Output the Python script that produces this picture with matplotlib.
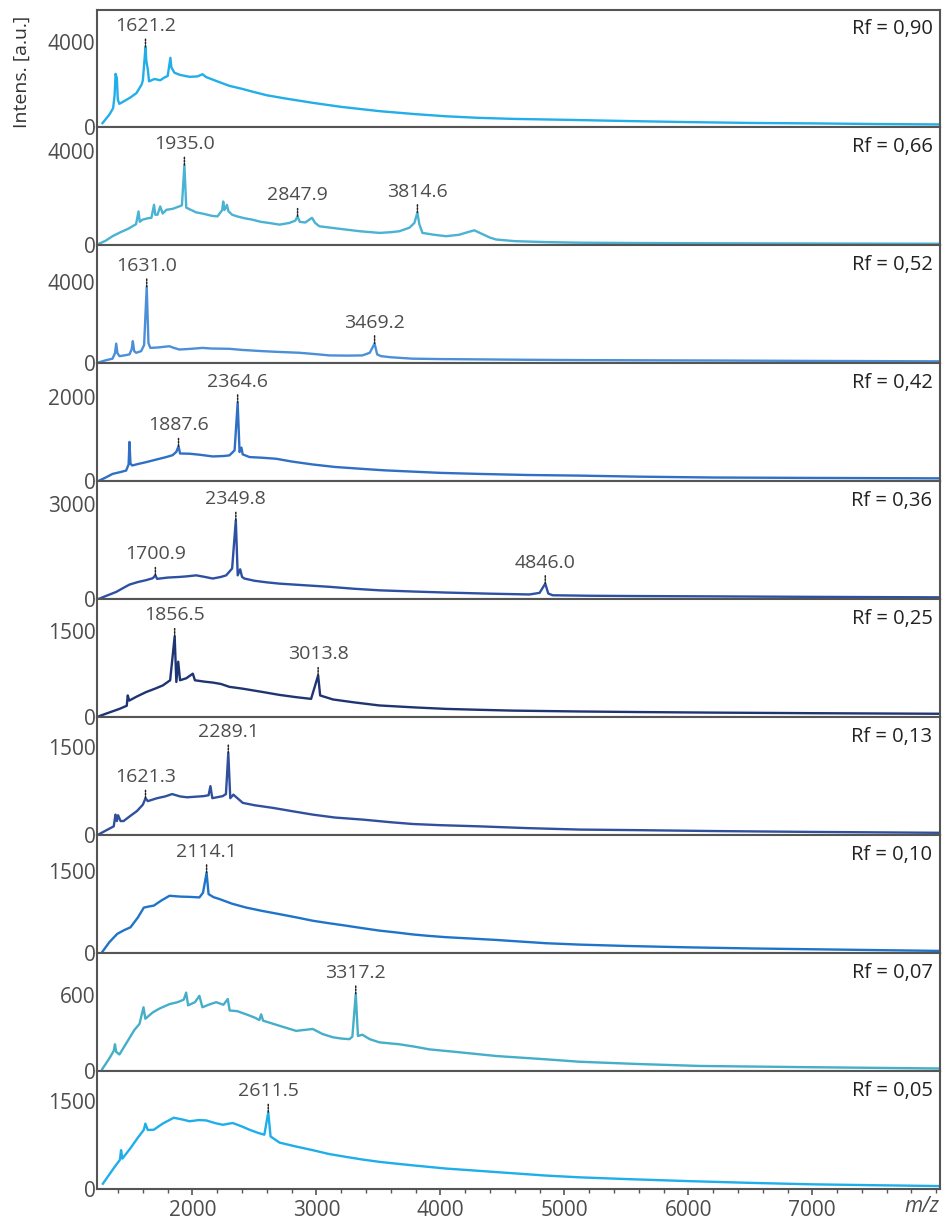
import matplotlib.pyplot as plt
import numpy as np
from matplotlib.ticker import FixedLocator, MultipleLocator

plt.rcParams['font.family'] = ['Open Sans', 'DejaVu Sans']

# one entry per panel, top to bottom
rf_labels = ["Rf = 0,90", "Rf = 0,66", "Rf = 0,52", "Rf = 0,42", "Rf = 0,36",
             "Rf = 0,25", "Rf = 0,13", "Rf = 0,10", "Rf = 0,07", "Rf = 0,05"]
line_colors = ["#22aee8", "#4ab2d2", "#4a8fd8", "#2f6fc4", "#2d50a2",
               "#1f3472", "#30509e", "#1f74c9", "#45aec8", "#1eaeea"]
y_ticks_top = [4000, 4000, 4000, 2000, 3000, 1500, 1500, 1500, 600, 1500]
y_limits = [5500, 5000, 5800, 2800, 3700, 2060, 2010, 2150, 925, 2020]

peak_labels = [
    ["1621.2"],
    ["1935.0", "2847.9", "3814.6"],
    ["1631.0", "3469.2"],
    ["1887.6", "2364.6"],
    ["1700.9", "2349.8", "4846.0"],
    ["1856.5", "3013.8"],
    ["1621.3", "2289.1"],
    ["2114.1"],
    ["3317.2"],
    ["2611.5"],
]

mz_1 = [1274, 1330, 1360, 1372, 1380, 1390, 1398, 1410, 1450, 1500, 1548, 1590, 1600, 1621.2,
        1628, 1640, 1650, 1694, 1740, 1774, 1800, 1822, 1830, 1855, 1900, 1976, 2040, 2081,
        2110, 2200, 2298, 2400, 2484, 2600, 2750, 2968, 3200, 3508, 3800, 4048, 4300, 4581,
        5065, 5500, 6000, 6500, 7000, 7500, 8030]
int_1 = [200, 600, 900, 1500, 2500, 2300, 1300, 1100, 1230, 1400, 1600, 2000, 2200, 3750,
         3100, 2700, 2150, 2260, 2200, 2330, 2400, 3250, 2800, 2550, 2450, 2360, 2380, 2480,
         2350, 2150, 1940, 1800, 1670, 1500, 1350, 1150, 960, 760, 620, 520, 450, 400,
         350, 300, 250, 210, 190, 160, 140]

mz_2 = [1250, 1300, 1355, 1420, 1480, 1516, 1545, 1565, 1575, 1597, 1640, 1669, 1690, 1700,
        1718, 1740, 1760, 1790, 1840, 1887, 1915, 1935.0, 1950, 1970, 2030, 2080, 2121, 2160,
        2202, 2240, 2248, 2258, 2270, 2278, 2290, 2320, 2360, 2420, 2484, 2550, 2620, 2702,
        2780, 2830, 2847.9, 2865, 2910, 2964, 2990, 3024, 3100, 3239, 3350, 3508, 3600, 3669,
        3750, 3790, 3814.6, 3830, 3855, 3950, 4046, 4150, 4220, 4274, 4330, 4400, 4449, 4600,
        4852, 5121, 5600, 6200, 7000, 8030]
int_2 = [80, 200, 390, 560, 700, 810, 900, 1440, 1000, 1090, 1150, 1170, 1720, 1300,
         1300, 1650, 1350, 1510, 1550, 1640, 1700, 3400, 1600, 1550, 1400, 1350, 1300, 1250,
         1230, 1500, 1860, 1500, 1600, 1720, 1450, 1300, 1230, 1150, 1090, 1000, 950, 880,
         950, 1050, 1230, 1000, 970, 1170, 950, 810, 760, 670, 600, 530, 560, 600,
         750, 950, 1390, 900, 530, 450, 390, 450, 560, 640, 500, 330, 250, 180,
         140, 115, 100, 90, 80, 70]

mz_3 = [1250, 1300, 1355, 1375, 1385, 1395, 1411, 1460, 1492, 1510, 1519, 1530, 1546, 1586,
        1610, 1631.0, 1645, 1660, 1720, 1780, 1815, 1850, 1895, 1950, 2000, 2081, 2150, 2298,
        2400, 2565, 2700, 2863, 3000, 3105, 3250, 3371, 3430, 3469.2, 3490, 3520, 3600, 3774,
        4000, 4315, 4700, 5121, 5600, 6200, 7000, 8030]
int_3 = [60, 150, 230, 500, 970, 500, 355, 400, 440, 700, 1090, 600, 520, 600,
         900, 3760, 1000, 760, 780, 820, 840, 760, 680, 700, 720, 760, 730, 715,
         660, 600, 560, 520, 450, 390, 380, 390, 520, 970, 440, 355, 300, 230,
         210, 195, 175, 160, 150, 140, 120, 100]

mz_4 = [1250, 1300, 1355, 1420, 1465, 1485, 1492, 1500, 1514, 1560, 1627, 1700, 1788, 1840,
        1870, 1887.6, 1900, 1976, 2060, 2164, 2250, 2298, 2340, 2364.6, 2380, 2395, 2405, 2460,
        2560, 2675, 2800, 2968, 3150, 3371, 3550, 3774, 4000, 4315, 4700, 5121, 5600, 6200,
        7000, 8030]
int_4 = [20, 90, 175, 220, 255, 400, 935, 420, 375, 410, 455, 510, 575, 620,
         700, 830, 660, 655, 630, 590, 600, 615, 735, 1865, 695, 800, 640, 575,
         560, 535, 470, 400, 340, 295, 260, 230, 200, 175, 150, 135, 110, 90,
         80, 70]

mz_5 = [1250, 1300, 1385, 1440, 1492, 1560, 1627, 1680, 1700.9, 1715, 1800, 1895, 1960, 2030,
        2100, 2164, 2230, 2272, 2320, 2349.8, 2365, 2385, 2400, 2419, 2500, 2600, 2702, 2900,
        3105, 3300, 3508, 3800, 4046, 4400, 4718, 4800, 4846.0, 4870, 4906, 5200, 5600, 6200,
        7000, 8030]
int_5 = [20, 100, 230, 350, 460, 540, 600, 660, 750, 640, 680, 700, 720, 750,
         700, 650, 700, 750, 965, 2480, 750, 940, 700, 650, 580, 530, 490, 440,
         390, 330, 280, 240, 210, 175, 150, 200, 490, 180, 125, 110, 100, 90,
         75, 60]

mz_6 = [1250, 1300, 1411, 1470, 1478, 1490, 1550, 1627, 1700, 1761, 1820, 1856.5, 1870, 1885,
        1900, 1950, 2003, 2020, 2100, 2164, 2230, 2298, 2400, 2567, 2700, 2836, 2957, 3013.8,
        3030, 3133, 3300, 3508, 3800, 4046, 4300, 4583, 5121, 5600, 6200, 7000, 8030]
int_6 = [20, 60, 145, 200, 380, 290, 360, 440, 500, 555, 645, 1410, 615, 970,
         645, 680, 760, 645, 620, 605, 580, 530, 500, 440, 390, 350, 320, 730,
         380, 310, 260, 205, 170, 145, 130, 115, 100, 90, 80, 70, 60]

mz_7 = [1250, 1320, 1365, 1379, 1390, 1400, 1420, 1444, 1500, 1552, 1600, 1621.3, 1640, 1715,
        1780, 1836, 1900, 1957, 2091, 2130, 2145, 2160, 2244, 2270, 2289.1, 2305, 2330, 2406,
        2500, 2648, 2800, 2970, 3150, 3374, 3600, 3777, 4000, 4315, 4700, 5121, 5600, 6200,
        7000, 8030]
int_7 = [20, 100, 150, 350, 240, 340, 240, 240, 330, 410, 520, 630, 580, 630,
         660, 700, 660, 645, 665, 680, 835, 630, 665, 700, 1400, 630, 690, 550,
         510, 465, 410, 350, 300, 265, 220, 190, 170, 150, 120, 95, 85, 70,
         55, 40]

mz_8 = [1272, 1330, 1393, 1450, 1500, 1560, 1608, 1650, 1688, 1750, 1815, 1900, 1976, 2056,
        2085, 2114.1, 2130, 2170, 2218, 2320, 2433, 2560, 2702, 2840, 2970, 3100, 3239, 3370,
        3508, 3650, 3777, 3900, 4046, 4250, 4449, 4650, 4852, 5121, 5500, 6000, 6500, 7000,
        7500, 8030]
int_8 = [20, 200, 350, 420, 470, 650, 830, 850, 865, 960, 1045, 1030, 1025, 1015,
         1100, 1465, 1075, 1020, 985, 900, 830, 770, 710, 650, 590, 545, 500, 455,
         410, 375, 340, 315, 290, 265, 240, 210, 180, 155, 130, 105, 85, 70,
         55, 40]

mz_9 = [1272, 1330, 1365, 1375, 1385, 1411, 1480, 1530, 1573, 1605, 1620, 1680, 1734, 1815,
        1880, 1930, 1949, 1965, 2020, 2056, 2080, 2130, 2191, 2250, 2285, 2300, 2360, 2433,
        2500, 2540, 2554, 2570, 2702, 2836, 2970, 3050, 3132, 3200, 3266, 3290, 3317.2, 3335,
        3370, 3430, 3508, 3669, 3800, 3911, 4126, 4449, 4852, 5121, 5600, 6089, 7000, 8030]
int_9 = [15, 100, 158, 210, 150, 130, 240, 320, 370, 500, 410, 460, 490, 525,
         540, 560, 615, 515, 540, 590, 500, 520, 540, 520, 565, 475, 470, 445,
         420, 400, 445, 395, 355, 315, 330, 290, 265, 255, 250, 270, 605, 275,
         285, 250, 225, 210, 190, 170, 150, 118, 92, 73, 55, 40, 30, 20]

mz_10 = [1277, 1330, 1371, 1415, 1424, 1435, 1500, 1560, 1608, 1620, 1640, 1688, 1760, 1849,
         1920, 1976, 2050, 2110, 2180, 2244, 2325, 2400, 2460, 2530, 2580, 2611.5, 2630, 2702,
         2830, 2970, 3100, 3239, 3370, 3508, 3640, 3777, 3900, 4046, 4250, 4449, 4650, 4852,
         5121, 5500, 6000, 6500, 7000, 7500, 8030]
int_10 = [90, 250, 375, 500, 665, 520, 700, 880, 1015, 1120, 1010, 1015, 1120, 1220,
          1190, 1160, 1180, 1175, 1130, 1100, 1130, 1070, 1015, 960, 930, 1315, 900, 795,
          730, 665, 600, 550, 505, 465, 435, 405, 380, 350, 320, 290, 260, 230,
          200, 170, 135, 105, 80, 65, 50]

spectra = [(mz_1, int_1), (mz_2, int_2), (mz_3, int_3), (mz_4, int_4), (mz_5, int_5),
           (mz_6, int_6), (mz_7, int_7), (mz_8, int_8), (mz_9, int_9), (mz_10, int_10)]

x_range = (1230, 8030)
text_grey = "#4d4d4d"
spine_grey = "#555555"

fig = plt.figure(figsize=(9.46, 12.2), dpi=100)
W, H = 946, 1220
left_px, right_px = 97, 940
top_px, bottom_px = 9.5, 1189
panel_h = (bottom_px - top_px) / len(spectra)

axes = []
for i, (mz, inten) in enumerate(spectra):
    y0 = top_px + (i + 1) * panel_h
    ax = fig.add_axes([left_px / W, 1 - y0 / H, (right_px - left_px) / W, panel_h / H])
    axes.append(ax)
    mz = np.array(mz)
    inten = np.array(inten)
    ax.plot(mz, inten, color=line_colors[i], lw=1.7, solid_joinstyle="round")
    ax.set_xlim(*x_range)
    ax.set_ylim(0, y_limits[i])

    ax.yaxis.set_major_locator(FixedLocator([0, y_ticks_top[i]]))
    ax.tick_params(axis="y", length=0, pad=1, labelsize=15, labelcolor=text_grey)
    for s in ax.spines.values():
        s.set_color(spine_grey)
        s.set_linewidth(1.5)

    ax.text(0.991, 0.835, rf_labels[i], transform=ax.transAxes, ha="right", va="center",
            fontsize=14.5, color="#222222")

    for lab in peak_labels[i]:
        px = float(lab)
        py = np.interp(px, mz, inten)
        ax.annotate(lab, xy=(px, py), xytext=(0, 16), textcoords="offset pixels",
                    ha="center", va="baseline", fontsize=14, color=text_grey,
                    arrowprops=dict(arrowstyle="-", color="#222222", lw=1.1,
                                    linestyle=(0, (1, 1)), shrinkA=1, shrinkB=0))

    if i < len(spectra) - 1:
        ax.tick_params(axis="x", which="both", bottom=False, labelbottom=False)

ax = axes[-1]
ax.xaxis.set_major_locator(FixedLocator([2000, 3000, 4000, 5000, 6000, 7000]))
ax.xaxis.set_minor_locator(MultipleLocator(200))
ax.tick_params(axis="x", which="major", direction="out", length=4, width=1.2,
               color=spine_grey, labelsize=15, labelcolor=text_grey, pad=4)
ax.tick_params(axis="x", which="minor", direction="out", length=3, width=1.0,
               color=spine_grey)

fig.text(22 / W, 1 - 72 / H, "Intens. [a.u.]", rotation=90, ha="center", va="center",
         fontsize=14, color="#333333")
fig.text(922 / W, 1 - 1206 / H, "m/z", style="italic", ha="center", va="center",
         fontsize=15, color=text_grey)

fig.savefig("out.png", dpi=100)
